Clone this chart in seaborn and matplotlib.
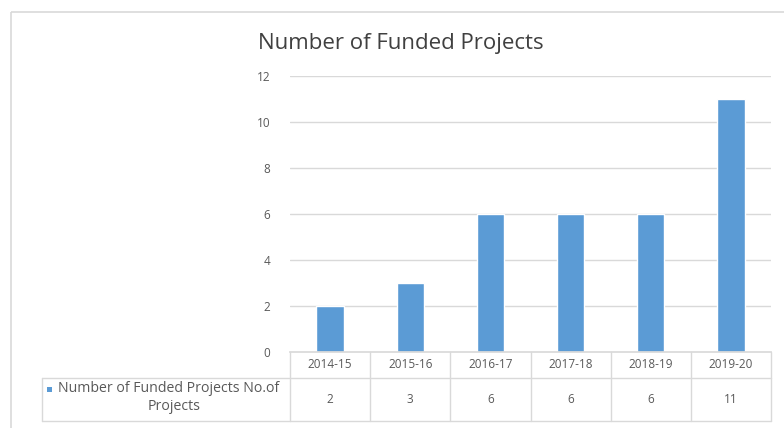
import matplotlib
matplotlib.use("Agg")
import matplotlib.pyplot as plt
from matplotlib.patches import Rectangle
from matplotlib.lines import Line2D
import matplotlib.transforms as mtransforms
import seaborn as sns
import pandas as pd

# Funded projects per financial year
years = ["2014-15", "2015-16", "2016-17", "2017-18", "2018-19", "2019-20"]
projects = [2, 3, 6, 6, 6, 11]
y_ticks = [0, 2, 4, 6, 8, 10, 12]
title = "Number of Funded Projects"
series_label = ["Number of Funded Projects No.of", "Projects"]

df = pd.DataFrame({"year": years, "projects": projects})

sns.set_theme(style="white")
plt.rcParams["font.family"] = ["Open Sans", "DejaVu Sans"]

BLUE = "#5B9BD5"
GRID = "#D9D9D9"
TXT = "#595959"
W, H = 784, 428

fig = plt.figure(figsize=(W / 100, H / 100), dpi=100)
fig.patch.set_facecolor("white")

# pixel-space overlay for the outer frame
bg = fig.add_axes([0, 0, 1, 1], zorder=0)
bg.set_xlim(0, W)
bg.set_ylim(H, 0)
bg.axis("off")
bg.add_patch(Rectangle((11.5, 11.5), W + 20, H + 20, fill=False,
                       edgecolor="#D9D9D9", lw=1.2))

# plot area
left, right, top, bottom = 290, 771, 76, 352
ax = fig.add_axes([left / W, 1 - bottom / H, (right - left) / W, (bottom - top) / H], zorder=1)
ax.patch.set_alpha(0)
sns.barplot(data=df, x="year", y="projects", color=BLUE, width=0.34,
            saturation=1, ax=ax)
ax.set_ylim(0, 12)
ax.set_xlim(-0.5, len(years) - 0.5)
ax.set_yticks(y_ticks)
ax.set_yticklabels([str(t) for t in y_ticks], fontsize=8.5, color=TXT)
ax.tick_params(axis="y", length=0, pad=14)
ax.set_xticks([])
ax.set_xlabel("")
ax.set_ylabel("")
for s in ["top", "right", "left"]:
    ax.spines[s].set_visible(False)
ax.spines["bottom"].set_color(GRID)
for t in y_ticks[1:]:
    ax.axhline(t, color=GRID, lw=1, zorder=0)

fig.text(258 / W, 1 - 43 / H, title, fontsize=16, color="#404040",
         ha="left", va="center")

# data table beneath the axis
ph = bottom - top
hdr_bot = -(378 - bottom) / ph
row_bot = -(421 - bottom) / ph
xt = ax.get_xaxis_transform()
lkw = dict(color=GRID, lw=1, clip_on=False)
n = len(years)
for i in range(n + 1):
    ax.add_line(Line2D([i - 0.5, i - 0.5], [0, row_bot], transform=xt, **lkw))
ax.add_line(Line2D([-0.5, n - 0.5], [hdr_bot, hdr_bot], transform=xt, **lkw))
ax.add_line(Line2D([-0.5, n - 0.5], [row_bot, row_bot], transform=xt, **lkw))
for i, (yr, v) in enumerate(zip(years, projects)):
    ax.text(i, hdr_bot / 2, yr, transform=xt, ha="center", va="center",
            fontsize=8.5, color=TXT, clip_on=False)
    ax.text(i, (hdr_bot + row_bot) / 2, str(v), transform=xt, ha="center",
            va="center", fontsize=8.5, color=TXT, clip_on=False)

# series label cell
bt = mtransforms.blended_transform_factory(fig.transFigure, ax.transAxes)
x0 = 42 / W
ax.add_line(Line2D([x0, left / W], [hdr_bot, hdr_bot], transform=bt, **lkw))
ax.add_line(Line2D([x0, left / W], [row_bot, row_bot], transform=bt, **lkw))
ax.add_line(Line2D([x0, x0], [hdr_bot, row_bot], transform=bt, **lkw))
y1 = -(389 - bottom) / ph
y2 = -(407 - bottom) / ph
ax.add_patch(Rectangle((47 / W, y1 - 2.5 / ph), 5 / W, 5 / ph, transform=bt,
                       facecolor=BLUE, edgecolor="none", clip_on=False))
ax.text(58 / W, y1, series_label[0], transform=bt, ha="left", va="center",
        fontsize=10.2, color=TXT, clip_on=False)
ax.text(174 / W, y2, series_label[1], transform=bt, ha="center", va="center",
        fontsize=10.2, color=TXT, clip_on=False)

fig.savefig("out.png", dpi=100, facecolor="white")
